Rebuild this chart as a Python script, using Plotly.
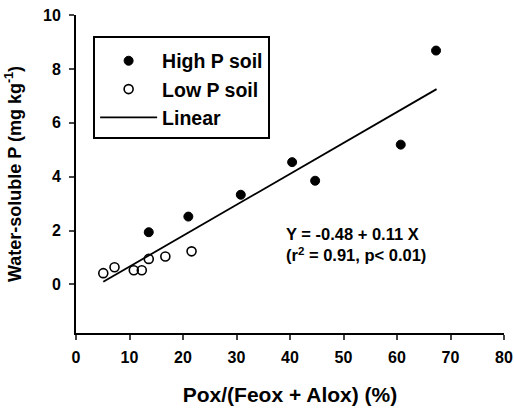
import plotly.graph_objects as go

# High P soil
high_x = [13.6, 21.0, 30.8, 40.4, 44.7, 60.7, 67.3]
high_y = [1.94, 2.52, 3.33, 4.54, 3.85, 5.19, 8.68]
# Low P soil
low_x = [5.1, 7.2, 10.8, 12.3, 13.6, 16.7, 21.6]
low_y = [0.42, 0.64, 0.53, 0.53, 0.95, 1.04, 1.23]
# Linear fit (as drawn)
fit_x = [5.1, 67.4]
fit_y = [0.1, 7.25]

x_ticks = [0, 10, 20, 30, 40, 50, 60, 70, 80]
y_ticks = [0, 2, 4, 6, 8, 10]

FONT = "Liberation Sans"

fig = go.Figure()
fig.add_trace(go.Scatter(x=high_x, y=high_y, mode="markers", name="High P soil",
                         legendgroup="a",
                         marker=dict(symbol="circle", size=9, color="black",
                                     line=dict(color="black", width=1))))
fig.add_trace(go.Scatter(x=low_x, y=low_y, mode="markers", name="Low P soil",
                         legendgroup="b",
                         marker=dict(symbol="circle-open", size=9, color="black",
                                     line=dict(color="black", width=1.6))))
fig.add_trace(go.Scatter(x=fit_x, y=fit_y, mode="lines", name="Linear",
                         legendgroup="c",
                         line=dict(color="black", width=1.8)))

fig.add_annotation(x=0.486, y=0.278, xref="paper", yref="paper", xanchor="left", yanchor="middle",
                   text="Y = -0.48 + 0.11 X<br>(r<sup>2</sup> = 0.91, p< 0.01)",
                   showarrow=False, align="left",
                   font=dict(family=FONT, size=16.5, color="black", weight="bold"))

fig.update_layout(
    width=514, height=408,
    margin=dict(l=76, r=10, t=15, b=75),
    paper_bgcolor="white", plot_bgcolor="white",
    font=dict(family=FONT, color="black"),
    legend=dict(x=0.04, y=0.935, xanchor="left", yanchor="top",
                bordercolor="black", borderwidth=2, bgcolor="white",
                tracegroupgap=0, itemwidth=57,
                title=dict(text=" ", font=dict(size=3)),
                font=dict(family=FONT, size=19.5, color="black", weight="bold")),
    xaxis=dict(range=[0, 80], tickvals=x_ticks, ticks="outside", ticklen=5,
               tickwidth=1.5, showline=True, linecolor="black", linewidth=2,
               showgrid=False, zeroline=False, automargin=False,
               ticklabelstandoff=4,
               tickfont=dict(family=FONT, size=16, weight="bold"),
               title=dict(text="Pox/(Feox + Alox) (%)", standoff=22,
                          font=dict(family=FONT, size=21, weight="bold"))),
    yaxis=dict(range=[-1.8, 10], tickvals=y_ticks, ticks="outside", ticklen=5,
               tickwidth=1.5, showline=True, linecolor="black", linewidth=2,
               showgrid=False, zeroline=False, automargin=False,
               ticklabelstandoff=5,
               tickfont=dict(family=FONT, size=16, weight="bold"),
               title=dict(text="Water-soluble P (mg kg<sup>-1</sup>)", standoff=17,
                          font=dict(family=FONT, size=18, weight="bold"))),
)

# remove the default 8px page margin so the figure fills the 514x408 window exactly
fig.write_html("out.html", config={"displayModeBar": False},
               post_script="document.body.style.margin='0';")
